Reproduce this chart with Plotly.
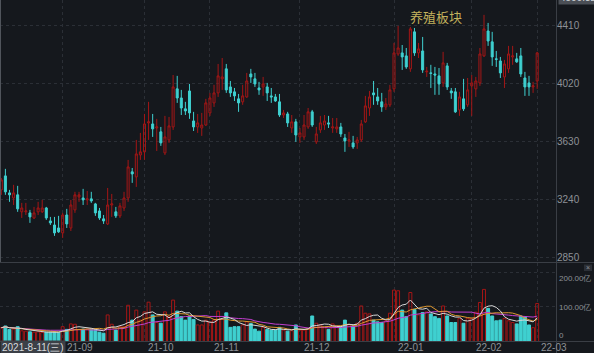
import pandas as pd
import plotly.graph_objects as go

# ---- data -------------------------------------------------------------
holidays = ["2021-09-20", "2021-09-21", "2021-10-01", "2021-10-04", "2021-10-05",
            "2021-10-06", "2021-10-07", "2022-01-03", "2022-01-31", "2022-02-01",
            "2022-02-02", "2022-02-03", "2022-02-04"]
days = [d.strftime("%Y-%m-%d") for d in pd.bdate_range("2021-08-11", "2022-03-01")
        if d.strftime("%Y-%m-%d") not in holidays]

open_ = [3305, 3399, 3285, 3251, 3272, 3158, 3158, 3151, 3117, 3158, 3158, 3184, 3097, 3070, 3050,
         3017, 3137, 3050, 3171, 3258, 3251, 3238, 3245, 3211, 3164, 3111, 3077, 3204, 3158, 3131,
         3184, 3251, 3426, 3392, 3539, 3560, 3754, 3747, 3720, 3694, 3553, 3640, 3727, 3982, 3921,
         3848, 3968, 3767, 3727, 3720, 3740, 3821, 3888, 3955, 4049, 4116, 3995, 3962, 3915, 3895,
         3928, 4082, 4049, 3988, 3995, 3995, 3935, 3928, 3895, 3807, 3814, 3720, 3761, 3660, 3660,
         3727, 3828, 3627, 3707, 3740, 3754, 3720, 3714, 3727, 3653, 3633, 3620, 3620, 3640, 3761,
         3854, 3955, 3928, 3895, 3861, 3875, 3982, 4216, 4223, 4203, 4116, 4364, 4223, 4236, 4096,
         4089, 4082, 4069, 4022, 4136, 3968, 3962, 3841, 3915, 3875, 4002, 3982, 4022, 4203, 4370,
         4297, 4183, 4169, 4062, 4116, 4196, 4183, 4203, 4055, 4022, 3995, 4035]
high = [3385, 3446, 3305, 3339, 3332, 3218, 3218, 3171, 3191, 3225, 3238, 3191, 3124, 3124, 3131,
        3151, 3178, 3238, 3292, 3292, 3312, 3298, 3292, 3218, 3184, 3137, 3318, 3278, 3191, 3218,
        3292, 3506, 3452, 3640, 3687, 3814, 3895, 3814, 3781, 3727, 3801, 3794, 4075, 4069, 3975,
        3895, 4015, 3828, 3814, 3821, 3915, 3955, 4009, 4149, 4189, 4149, 4035, 3988, 3948, 4009,
        4089, 4116, 4089, 4029, 4062, 4022, 3988, 3948, 3948, 3841, 3828, 3807, 3781, 3720, 3807,
        3854, 3841, 3727, 3801, 3807, 3801, 3787, 3787, 3754, 3680, 3694, 3667, 3660, 3774, 3935,
        3968, 4035, 3988, 3955, 3921, 4009, 4290, 4404, 4276, 4256, 4397, 4390, 4290, 4330, 4129,
        4143, 4129, 4122, 4230, 4156, 3988, 3988, 3962, 4049, 4055, 4075, 4062, 4256, 4478, 4424,
        4364, 4236, 4196, 4176, 4270, 4270, 4223, 4256, 4096, 4069, 4029, 4230]
low = [3272, 3272, 3225, 3204, 3158, 3117, 3137, 3084, 3110, 3137, 3151, 3104, 3070, 2997, 3017,
       2983, 3050, 3030, 3151, 3225, 3204, 3204, 3218, 3131, 3104, 3077, 3070, 3124, 3117, 3117,
       3164, 3225, 3352, 3325, 3506, 3506, 3640, 3660, 3566, 3600, 3539, 3620, 3707, 3888, 3807,
       3807, 3781, 3700, 3687, 3667, 3734, 3801, 3861, 3928, 3975, 3955, 3928, 3901, 3828, 3875,
       3922, 4022, 3995, 3942, 3935, 3901, 3888, 3895, 3794, 3787, 3727, 3687, 3627, 3620, 3640,
       3714, 3727, 3613, 3687, 3707, 3720, 3687, 3687, 3660, 3560, 3593, 3580, 3580, 3627, 3754,
       3801, 3875, 3875, 3828, 3841, 3861, 3962, 4203, 4109, 4116, 4096, 4203, 4189, 4089, 4062,
       3988, 3942, 3942, 3995, 3975, 3915, 3821, 3801, 3834, 3861, 3801, 3928, 4002, 4196, 4270,
       4136, 4129, 4055, 3988, 4089, 4143, 4156, 4062, 3935, 3935, 3955, 3982]
close = [3372, 3292, 3272, 3285, 3178, 3184, 3164, 3124, 3151, 3184, 3184, 3117, 3084, 3017, 3024,
         3137, 3077, 3204, 3272, 3272, 3238, 3245, 3231, 3151, 3117, 3097, 3204, 3211, 3131, 3198,
         3251, 3459, 3412, 3546, 3560, 3747, 3761, 3714, 3727, 3620, 3660, 3734, 3995, 3921, 3854,
         3834, 3821, 3727, 3754, 3740, 3888, 3921, 3955, 4069, 4062, 3975, 3955, 3935, 3888, 3935,
         4035, 4062, 4015, 3975, 4015, 3955, 3928, 3901, 3807, 3821, 3754, 3761, 3673, 3687, 3740,
         3828, 3740, 3680, 3754, 3767, 3747, 3727, 3727, 3680, 3633, 3640, 3593, 3640, 3747, 3868,
         3928, 3942, 3901, 3861, 3881, 3975, 4223, 4256, 4196, 4129, 4384, 4223, 4250, 4109, 4100,
         4086, 4075, 4015, 4156, 3995, 3955, 3828, 3928, 3848, 3975, 4022, 4035, 4216, 4384, 4303,
         4196, 4180, 4089, 4149, 4216, 4203, 4163, 4082, 3995, 3995, 4002, 4223]
# turnover, 亿
volume = [40, 45, 35, 36, 43, 31, 30, 28, 27, 28, 26, 27, 27, 27, 27,
          43, 35, 51, 50, 35, 36, 36, 35, 33, 27, 24, 77, 50, 33, 43,
          43, 105, 62, 91, 62, 86, 114, 77, 55, 53, 86, 72, 120, 88, 72,
          62, 74, 64, 48, 48, 62, 57, 62, 88, 65, 83, 41, 43, 43, 48,
          57, 52, 36, 30, 41, 35, 33, 33, 41, 33, 30, 31, 48, 33, 33,
          38, 74, 53, 48, 40, 35, 51, 45, 43, 62, 48, 45, 53, 103, 82,
          80, 62, 57, 55, 60, 82, 149, 147, 91, 72, 142, 93, 77, 84, 86,
          80, 72, 67, 103, 74, 55, 55, 67, 53, 67, 67, 85, 113, 151, 96,
          74, 60, 62, 67, 60, 55, 51, 74, 72, 48, 40, 110]

price_ticks = [2850, 3240, 3630, 4020, 4410]
month_starts = ["2021-09-01", "2021-10-08", "2021-11-01", "2021-12-01",
                "2022-01-04", "2022-02-07", "2022-03-01"]
month_labels = ["21-09", "21-10", "21-11", "21-12", "22-01", "22-02", "22-03"]

# ---- style ------------------------------------------------------------
BG = "#15181d"
UP = "#a41616"
DN = "#3fd0d0"
GRID = "#2b2f36"
TXT = "#8d9197"
FONT = "Liberation Sans"

vol_colors_fill = [("rgba(0,0,0,0)" if c >= o else DN) for o, c in zip(open_, close)]
vol_colors_line = [(UP if c >= o else DN) for o, c in zip(open_, close)]
vs = pd.Series(volume, dtype=float)
ma5 = vs.rolling(5, min_periods=1).mean()
ma10 = vs.rolling(10, min_periods=1).mean()
ma20 = vs.rolling(20, min_periods=1).mean()

fig = go.Figure()
fig.add_trace(go.Candlestick(
    x=days, open=open_, high=high, low=low, close=close,
    increasing=dict(line=dict(color=UP, width=1), fillcolor="rgba(0,0,0,0)"),
    decreasing=dict(line=dict(color=DN, width=1), fillcolor=DN),
    whiskerwidth=0, xaxis="x", yaxis="y", showlegend=False))
fig.add_trace(go.Bar(
    x=days, y=volume, width=0.72,
    marker=dict(color=vol_colors_fill, line=dict(color=vol_colors_line, width=1)),
    xaxis="x2", yaxis="y2", showlegend=False))
for s, col in [(ma20, "#c23fcf"), (ma10, "#de9830"), (ma5, "#d8d8d8")]:
    fig.add_trace(go.Scatter(x=days, y=s, mode="lines", line=dict(color=col, width=1),
                             xaxis="x2", yaxis="y2", showlegend=False, hoverinfo="skip"))

XR = [-0.32, 135.6]
xcommon = dict(type="category", range=XR, domain=[0, 556 / 594], showticklabels=False,
               tickvals=month_starts, showgrid=True, gridcolor=GRID, griddash="dot",
               gridwidth=1, zeroline=False, showline=False, ticks="",
               rangeslider=dict(visible=False), fixedrange=True)
fig.update_layout(
    width=594, height=353, margin=dict(l=0, r=0, t=0, b=0),
    paper_bgcolor=BG, plot_bgcolor=BG,
    font=dict(family=FONT, size=10, color=TXT),
    xaxis=dict(**xcommon, anchor="y"),
    xaxis2=dict(**xcommon, anchor="y2", matches="x"),
    yaxis=dict(domain=[91 / 353, 1], range=[2821.9, 4577.5], side="right",
               tickvals=price_ticks, ticktext=[str(v) for v in price_ticks],
               showgrid=True, gridcolor=GRID, griddash="dot", zeroline=False,
               ticks="", ticklabelposition="outside", tickfont=dict(size=10, color=TXT),
               anchor="x", fixedrange=True),
    yaxis2=dict(domain=[11.5 / 353, 90 / 353], range=[0, 227.5], side="right",
                tickvals=[100, 200], showticklabels=False, showgrid=True,
                gridcolor=GRID, griddash="dot", zeroline=False, anchor="x2",
                fixedrange=True),
    bargap=0.2,
)

shapes = []
# panel separators
shapes.append(dict(type="line", xref="paper", yref="paper", x0=0, x1=1,
                   y0=1 - 262.5 / 353, y1=1 - 262.5 / 353, line=dict(color="#3a3e45", width=1)))
shapes.append(dict(type="line", xref="paper", yref="paper", x0=0, x1=1,
                   y0=1 - 341.5 / 353, y1=1 - 341.5 / 353, line=dict(color="#3a3e45", width=1)))
shapes.append(dict(type="line", xref="paper", yref="paper", x0=556.5 / 594, x1=556.5 / 594,
                   y0=0, y1=1, line=dict(color="#3a3e45", width=1)))
shapes.append(dict(type="line", xref="paper", yref="paper", x0=0.5 / 594, x1=0.5 / 594,
                   y0=1 - 262 / 353, y1=1, line=dict(color="#50545b", width=1)))
# close box in volume panel
shapes.append(dict(type="rect", xref="paper", yref="paper", x0=584 / 594, x1=592 / 594,
                   y0=1 - 271 / 353, y1=1 - 264.5 / 353, fillcolor="#2c3037",
                   line=dict(color="#2c3037", width=0)))
fig.update_layout(shapes=shapes)

ann = []
ann.append(dict(text="养殖板块", xref="paper", yref="paper", x=436 / 594, y=1 - 17 / 353,
                showarrow=False, xanchor="center", yanchor="middle",
                font=dict(family="Noto Sans CJK SC", size=13, color="#c3b25c")))
ann.append(dict(text="4509.32", xref="paper", yref="paper", x=558 / 594, y=1 + 2 / 353,
                showarrow=False, xanchor="left", yanchor="middle", bgcolor="#4b4f56",
                font=dict(size=10, color="#d0d3d7"), borderpad=1))
for t, py in [("200.00亿", 278), ("100.00亿", 307), ("0", 335.5)]:
    ann.append(dict(text=t, xref="paper", yref="paper", x=557 / 594, y=1 - py / 353,
                    showarrow=False, xanchor="left", yanchor="middle",
                    font=dict(size=8, color=TXT)))
ann.append(dict(text="×", xref="paper", yref="paper", x=588 / 594, y=1 - 267.5 / 353,
                showarrow=False, xanchor="center", yanchor="middle",
                font=dict(size=7, color="#8d9197")))
for d, lab in zip(month_starts, month_labels):
    ann.append(dict(text=lab, xref="x2", yref="paper", x=d, y=1 - 347.5 / 353,
                    showarrow=False, xanchor="left", yanchor="middle", xshift=2,
                    font=dict(size=10, color=TXT)))
ann.append(dict(text="2021-8-11(三)", xref="paper", yref="paper", x=0, y=1 - 347.5 / 353,
                showarrow=False, xanchor="left", yanchor="middle", bgcolor="#3c4047",
                font=dict(size=10, color="#d8dadd"), borderpad=1))
fig.update_layout(annotations=ann)

fig.write_html("out.html", config={"displayModeBar": False})
